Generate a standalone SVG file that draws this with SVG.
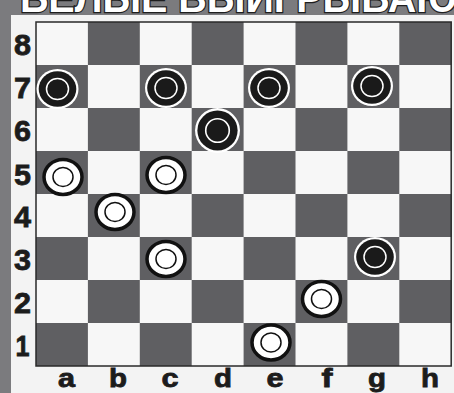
<svg xmlns="http://www.w3.org/2000/svg" xmlns:xlink="http://www.w3.org/1999/xlink" width="454" height="393" viewBox="0 0 454 393">
  <style>
    .title { font-family: "Liberation Sans", Arial, sans-serif; font-weight: bold; font-size: 40px; fill: #ffffff; stroke: #1e1e1e; stroke-width: 2.5px; paint-order: stroke; }
    .lbl { font-family: "Liberation Sans", Arial, sans-serif; font-weight: bold; fill: #1c1c1c; stroke: #1c1c1c; stroke-width: 0.8px; text-anchor: middle; }
    .num { font-size: 30px; }
    .let { font-size: 25px; }
    .lt { fill: #f7f7f7; }
    .dk { fill: #5f5f62; }
  </style>
  <defs>
    <g id="blackPiece">
      <ellipse rx="21" ry="20" fill="#ffffff"/>
      <ellipse rx="18.8" ry="17.8" fill="#1a1a1a"/>
      <ellipse rx="11" ry="10.5" fill="none" stroke="#ffffff" stroke-width="1.5"/>
    </g>
    <g id="whitePiece">
      <ellipse rx="19" ry="17.5" fill="#ffffff" stroke="#111111" stroke-width="3.5"/>
      <ellipse rx="10" ry="9.5" fill="none" stroke="#111111" stroke-width="1.5"/>
    </g>
  </defs>

  <rect x="0" y="0" width="454" height="393" fill="#7b7b7e"/>
  <text class="title" x="20" y="12" textLength="460" lengthAdjust="spacingAndGlyphs">БЕЛЫЕ ВЫИГРЫВАЮТ</text>
  <rect x="11" y="15" width="443" height="378" fill="#f3f3f3"/>

  <g id="board">
    <rect x="36" y="22" width="415.2" height="344" class="lt"/>
    <rect class="dk" x="87.9" y="22" width="51.9" height="43"/>
    <rect class="dk" x="191.7" y="22" width="51.9" height="43"/>
    <rect class="dk" x="295.5" y="22" width="51.9" height="43"/>
    <rect class="dk" x="399.3" y="22" width="51.9" height="43"/>
    <rect class="dk" x="36" y="65" width="51.9" height="43"/>
    <rect class="dk" x="139.8" y="65" width="51.9" height="43"/>
    <rect class="dk" x="243.6" y="65" width="51.9" height="43"/>
    <rect class="dk" x="347.4" y="65" width="51.9" height="43"/>
    <rect class="dk" x="87.9" y="108" width="51.9" height="43"/>
    <rect class="dk" x="191.7" y="108" width="51.9" height="43"/>
    <rect class="dk" x="295.5" y="108" width="51.9" height="43"/>
    <rect class="dk" x="399.3" y="108" width="51.9" height="43"/>
    <rect class="dk" x="36" y="151" width="51.9" height="43"/>
    <rect class="dk" x="139.8" y="151" width="51.9" height="43"/>
    <rect class="dk" x="243.6" y="151" width="51.9" height="43"/>
    <rect class="dk" x="347.4" y="151" width="51.9" height="43"/>
    <rect class="dk" x="87.9" y="194" width="51.9" height="43"/>
    <rect class="dk" x="191.7" y="194" width="51.9" height="43"/>
    <rect class="dk" x="295.5" y="194" width="51.9" height="43"/>
    <rect class="dk" x="399.3" y="194" width="51.9" height="43"/>
    <rect class="dk" x="36" y="237" width="51.9" height="43"/>
    <rect class="dk" x="139.8" y="237" width="51.9" height="43"/>
    <rect class="dk" x="243.6" y="237" width="51.9" height="43"/>
    <rect class="dk" x="347.4" y="237" width="51.9" height="43"/>
    <rect class="dk" x="87.9" y="280" width="51.9" height="43"/>
    <rect class="dk" x="191.7" y="280" width="51.9" height="43"/>
    <rect class="dk" x="295.5" y="280" width="51.9" height="43"/>
    <rect class="dk" x="399.3" y="280" width="51.9" height="43"/>
    <rect class="dk" x="36" y="323" width="51.9" height="43"/>
    <rect class="dk" x="139.8" y="323" width="51.9" height="43"/>
    <rect class="dk" x="243.6" y="323" width="51.9" height="43"/>
    <rect class="dk" x="347.4" y="323" width="51.9" height="43"/>
    <rect x="36" y="22" width="415.2" height="344" fill="none" stroke="#2a2a2a" stroke-width="1.5"/>
  </g>

  <g id="rank-labels">
    <text class="lbl num" x="22.5" y="55" textLength="17" lengthAdjust="spacingAndGlyphs">8</text>
    <text class="lbl num" x="22.5" y="98" textLength="17" lengthAdjust="spacingAndGlyphs">7</text>
    <text class="lbl num" x="22.5" y="141" textLength="17" lengthAdjust="spacingAndGlyphs">6</text>
    <text class="lbl num" x="22.5" y="185" textLength="17" lengthAdjust="spacingAndGlyphs">5</text>
    <text class="lbl num" x="22.5" y="227" textLength="17" lengthAdjust="spacingAndGlyphs">4</text>
    <text class="lbl num" x="22.5" y="270" textLength="17" lengthAdjust="spacingAndGlyphs">3</text>
    <text class="lbl num" x="22.5" y="313" textLength="17" lengthAdjust="spacingAndGlyphs">2</text>
    <text class="lbl num" x="22.5" y="356" textLength="14" lengthAdjust="spacingAndGlyphs">1</text>
  </g>

  <g id="file-labels">
    <text class="lbl let" x="66.5" y="387" textLength="17" lengthAdjust="spacingAndGlyphs">a</text>
    <text class="lbl let" x="118" y="387" textLength="18" lengthAdjust="spacingAndGlyphs">b</text>
    <text class="lbl let" x="170" y="387" textLength="17" lengthAdjust="spacingAndGlyphs">c</text>
    <text class="lbl let" x="223" y="387" textLength="18" lengthAdjust="spacingAndGlyphs">d</text>
    <text class="lbl let" x="275" y="387" textLength="17" lengthAdjust="spacingAndGlyphs">e</text>
    <text class="lbl let" x="327" y="387" textLength="11" lengthAdjust="spacingAndGlyphs">f</text>
    <text class="lbl let" x="377" y="387" textLength="18" lengthAdjust="spacingAndGlyphs">g</text>
    <text class="lbl let" x="430" y="387" textLength="18" lengthAdjust="spacingAndGlyphs">h</text>
  </g>

  <g id="black-pieces">
    <g id="b-a7"><use xlink:href="#blackPiece" href="#blackPiece" x="57.5" y="89"/></g>
    <g id="b-c7"><use xlink:href="#blackPiece" href="#blackPiece" x="166" y="88"/></g>
    <g id="b-e7"><use xlink:href="#blackPiece" href="#blackPiece" x="269" y="88"/></g>
    <g id="b-g7"><use xlink:href="#blackPiece" href="#blackPiece" x="372" y="86"/></g>
    <g id="b-d6"><use xlink:href="#blackPiece" href="#blackPiece" transform="translate(217.5 130.5) scale(1.07 1.12)"/></g>
    <g id="b-g3"><use xlink:href="#blackPiece" href="#blackPiece" x="375" y="257"/></g>
  </g>

  <g id="white-pieces">
    <g id="w-a5"><use xlink:href="#whitePiece" href="#whitePiece" x="63" y="177"/></g>
    <g id="w-c5"><use xlink:href="#whitePiece" href="#whitePiece" x="166" y="175"/></g>
    <g id="w-b4"><use xlink:href="#whitePiece" href="#whitePiece" x="115" y="212"/></g>
    <g id="w-c3"><use xlink:href="#whitePiece" href="#whitePiece" x="166" y="259"/></g>
    <g id="w-f2"><use xlink:href="#whitePiece" href="#whitePiece" x="321.5" y="299"/></g>
    <g id="w-e1"><use xlink:href="#whitePiece" href="#whitePiece" x="271" y="342.5"/></g>
  </g>
</svg>
